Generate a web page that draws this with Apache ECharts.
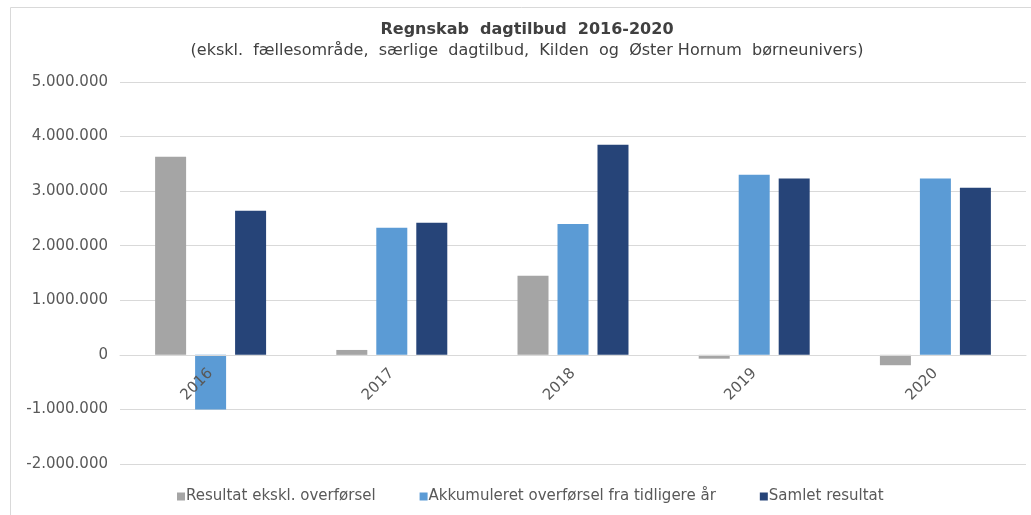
<!DOCTYPE html>
<html>
<head>
<meta charset="utf-8">
<script src="https://cdn.jsdelivr.net/npm/echarts@6/dist/echarts.min.js"></script>
<style>
    html, body { margin: 0; padding: 0; background: #fff; }
    #chart { width: 1031px; height: 515px; }
</style>
</head>
<body>
<div id="chart"></div>
<script>
'use strict';

const years = ['2016', '2017', '2018', '2019', '2020'];
const resultatEkskl = [3630000, 90000, 1450000, -70000, -190000];
const akkumuleret = [-1000000, 2330000, 2400000, 3300000, 3230000];
const samletResultat = [2640000, 2420000, 3850000, 3230000, 3060000];

const seriesNames = [
    'Resultat ekskl. overførsel',
    'Akkumuleret overførsel fra tidligere år',
    'Samlet resultat'
];
const colors = ['#a5a5a5', '#5b9bd5', '#264478'];

// Danish thousands separator
const formatDk = function(v) {
    const s = Math.abs(v).toString().replace(/\B(?=(\d{3})+(?!\d))/g, '.');
    return (v < 0 ? '-' : '') + s;
};

const regnskabChart = function() {
    const el = document.getElementById('chart');
    if (!el || typeof echarts == 'undefined') return;

    const chart = echarts.init(el);
    const font = 'DejaVu Sans, Verdana, sans-serif';

    const makeBar = function(name, data, color) {
        return {
            name: name,
            type: 'bar',
            data: data,
            barWidth: 31,
            barGap: '29%',
            itemStyle: { color: color }
        };
    };

    chart.setOption({
        animation: false,
        color: colors,
        textStyle: { fontFamily: font },
        graphic: [
            {
                type: 'rect',
                shape: { x: 10.5, y: 7.5, width: 1100, height: 600 },
                style: { fill: 'none', stroke: '#d9d9d9', lineWidth: 1 },
                silent: true
            }
        ],
        title: {
            text: 'Regnskab  dagtilbud  2016-2020',
            subtext: '(ekskl.  fællesområde,  særlige  dagtilbud,  Kilden  og  Øster Hornum  børneunivers)',
            left: 522,
            textAlign: 'center',
            top: 17,
            itemGap: 5,
            textStyle: {
                fontFamily: font,
                fontSize: 16,
                fontWeight: 'bold',
                color: '#404040'
            },
            subtextStyle: {
                fontFamily: font,
                fontSize: 16,
                color: '#404040'
            }
        },
        legend: {
            bottom: 6,
            left: 172,
            itemWidth: 8,
            itemHeight: 8,
            itemGap: 44,
            icon: 'rect',
            textStyle: { fontFamily: font, fontSize: 15, color: '#595959', padding: [0, 0, 0, -4] },
            data: seriesNames
        },
        grid: {
            left: 120,
            right: 5,
            top: 82,
            bottom: 51
        },
        xAxis: {
            type: 'category',
            data: years,
            z: 5,
            // keep the year labels on the zero line, as in the original
            offset: -109,
            axisLine: { onZero: false, lineStyle: { color: '#d9d9d9' } },
            axisTick: { show: false },
            axisLabel: {
                rotate: 45,
                margin: 16,
                fontFamily: font,
                fontSize: 15,
                color: '#595959'
            }
        },
        yAxis: {
            type: 'value',
            min: -2000000,
            max: 5000000,
            interval: 1000000,
            axisLine: { show: false },
            axisTick: { show: false },
            splitLine: { lineStyle: { color: '#d9d9d9' } },
            axisLabel: {
                margin: 12,
                fontFamily: font,
                fontSize: 15,
                color: '#595959',
                formatter: formatDk
            }
        },
        series: [
            makeBar(seriesNames[0], resultatEkskl, colors[0]),
            makeBar(seriesNames[1], akkumuleret, colors[1]),
            makeBar(seriesNames[2], samletResultat, colors[2])
        ]
    });
};

document.addEventListener('DOMContentLoaded', function() {
    regnskabChart();
});
</script>
</body>
</html>
